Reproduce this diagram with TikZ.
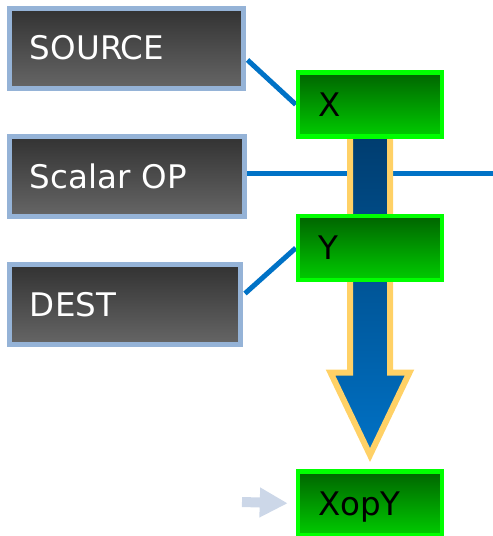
\documentclass[tikz,border=0pt]{standalone}
\usepackage{fontspec}
\usetikzlibrary{calc,arrows.meta}
\newfontfamily\boxfont{DejaVu Sans}
\definecolor{frameblue}{RGB}{149,179,215}
\definecolor{linkblue}{RGB}{0,114,198}
\definecolor{darktop}{RGB}{50,50,50}
\definecolor{darkbot}{RGB}{102,102,102}
\definecolor{greenedge}{RGB}{0,255,0}
\definecolor{greentop}{RGB}{0,100,0}
\definecolor{greenbot}{RGB}{0,204,0}
\definecolor{flowtop}{RGB}{0,58,107}
\definecolor{flowbot}{RGB}{0,114,198}
\definecolor{flowedge}{RGB}{255,209,102}
\definecolor{hintblue}{RGB}{204,215,232}
\tikzset{
  srcbox/.style={rectangle, draw=frameblue, line width=5pt,
    top color=darktop, bottom color=darkbot, text=white,
    font=\boxfont\fontsize{32.5}{32.5}\selectfont,
    minimum height=80pt, inner ysep=0pt, inner xsep=20.5pt,
    align=left, text height=23.7pt, text depth=0pt},
  regbox/.style={rectangle, draw=greenedge, line width=4.5pt,
    top color=greentop, bottom color=greenbot, text=black,
    font=\boxfont\fontsize{32.5}{32.5}\selectfont,
    minimum width=144pt, minimum height=64pt, inner ysep=0pt,
    inner xsep=20pt, text width=104pt, align=left,
    text height=23.7pt, text depth=0pt},
  link/.style={draw=linkblue, line width=5pt},
}
\begin{document}
\begin{tikzpicture}[x=1pt, y=-1pt]
\useasboundingbox (0,0) rectangle (493,536);

% operand and operation boxes
\node[srcbox, minimum width=234pt, text width=193pt] (source) at (126.5,48) {SOURCE};
\node[srcbox, minimum width=235pt, text width=194pt, minimum height=80.5pt] (scalar) at (127,176.25) {Scalar OP};
\node[srcbox, minimum width=231pt, text width=190pt] (dest) at (125,304.5) {DEST};

% register box positions
\path (370,104.5) coordinate (xpos);
\path (370,248) coordinate (ypos);
\path (370,503.5) coordinate (rpos);

% scalar operation line runs behind the flow arrow
\coordinate (scalarend) at (493,173);
\draw[link] ($(scalar.east)+(0,-3.25)$) -- (scalarend);

% big flow arrow from X down to the result
\draw[line width=6pt, draw=flowedge, line join=miter, miter limit=10,
      top color=flowtop, bottom color=flowbot]
  (350,120) -- (390,120) -- (390,372.5) -- (409.5,372.5) -- (370,455)
  -- (330.5,372.5) -- (350,372.5) -- cycle;

% registers
\node[regbox] (x) at (xpos) {X};
\node[regbox] (y) at (ypos) {Y};
\node[regbox] (xopy) at (rpos) {XopY};

% operand links
\draw[link] ($(source.east)+(1.5,12)$) -- (x.west);
\draw[link] ($(dest.east)+(2,-11)$) -- (y.west);

% hint arrow into the result
\coordinate (hintstart) at (242,502);
\draw[draw=hintblue, line width=10pt, shorten >=8pt,
      -{Triangle[length=28pt,width=28pt]}] (hintstart) -- (xopy.west);

% redraw register boxes over the link ends
\node[regbox] at (xpos) {X};
\node[regbox] at (ypos) {Y};
\end{tikzpicture}
\end{document}
